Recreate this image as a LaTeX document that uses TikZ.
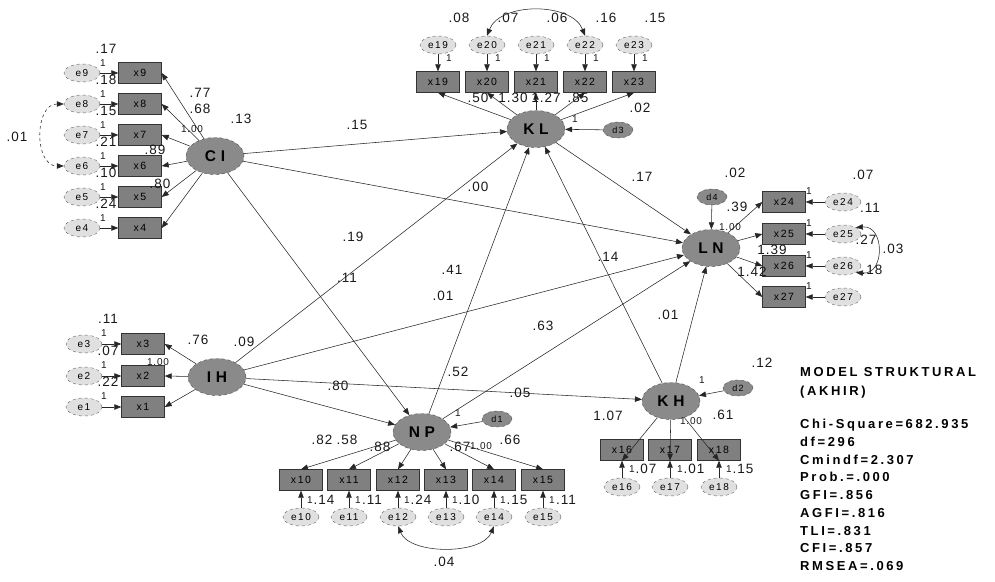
\documentclass[tikz,border=0pt]{standalone}
\usepackage{fontspec}
\setmainfont{Liberation Sans}
\newfontfamily\valfont[LetterSpace=8]{Liberation Sans}
\newfontfamily\boxfont[LetterSpace=15]{Liberation Sans}
\newfontfamily\latfont[LetterSpace=30]{Liberation Sans}
\newfontfamily\statfont[LetterSpace=20]{Liberation Sans}
\usetikzlibrary{arrows.meta,shapes.geometric}
\definecolor{latgray}{RGB}{138,138,138}
\definecolor{obsgray}{RGB}{128,128,128}
\definecolor{errgray}{RGB}{224,224,224}
\definecolor{valgray}{RGB}{25,25,25}

\begin{document}
\begin{tikzpicture}[x=1pt,y=-1pt,
  latent/.style={draw=black!70, dashed, ellipse, fill=latgray, minimum width=58pt, minimum height=37pt, inner sep=0pt, font=\latfont\bfseries\fontsize{15.5}{15.5}\selectfont},
  dist/.style={draw=black!70, dashed, ellipse, fill=latgray, minimum width=30pt, minimum height=16pt, inner sep=0pt, font=\boxfont\fontsize{9}{9}\selectfont},
  obs/.style={draw=black!80, fill=obsgray, minimum width=43pt, minimum height=21pt, inner sep=0pt, font=\boxfont\fontsize{10.5}{10.5}\selectfont},
  err/.style={draw=black!60, dashed, ellipse, fill=errgray, minimum width=36pt, minimum height=18pt, inner sep=0pt, font=\boxfont\fontsize{10}{10}\selectfont},
  val/.style={inner sep=0pt, text=valgray, font=\valfont\fontsize{13.5}{13.5}\selectfont},
  one/.style={inner sep=0pt, text=valgray, font=\valfont\fontsize{10}{10}\selectfont},
  arr/.style={-{Triangle[length=7pt,width=5.5pt]}, black!85, line width=0.55pt},
  cov/.style={{Triangle[length=7pt,width=5.5pt]}-{Triangle[length=7pt,width=5.5pt]}, black!85, line width=0.55pt},
  stat/.style={inner sep=0pt, anchor=west, font=\statfont\bfseries\fontsize{13}{13}\selectfont}
]
\useasboundingbox (0,0) rectangle (995,581);

% latent variables
\node[latent] (CI) at (215,156) {CI};
\node[latent] (IH) at (217,377) {IH};
\node[latent] (KL) at (536,129) {KL};
\node[latent] (LN) at (711,248) {LN};
\node[latent] (NP) at (422,432) {NP};
\node[latent] (KH) at (671,401) {KH};

% CI indicators
\foreach \n/\yy/\v in {9/73/.17,8/104/.18,7/135/.15,6/166/.21,5/197/.10,4/228/.24} {
  \node[obs] (x\n) at (140,\yy) {x\n};
  \node[err] (e\n) at (82,\yy) {e\n};
  \draw[arr] (e\n) -- (x\n);
  \draw[arr] (CI) -- (x\n.east);
  \node[one] at (103,\yy-10) {1};
  \node[val] at (106,\yy-24) {\v};
}
% IH indicators
\foreach \n/\yy/\v in {3/344/.11,2/376/.07,1/407/.22} {
  \node[obs] (x\n) at (143,\yy) {x\n};
  \node[err] (e\n) at (84,\yy) {e\n};
  \draw[arr] (e\n) -- (x\n);
  \draw[arr] (IH) -- (x\n.east);
  \node[one] at (104,\yy-11) {1};
  \node[val] at (108,\yy-25) {\v};
}
% KL indicators
\foreach \n/\xx/\v in {19/438/.08,20/487/.07,21/536/.06,22/585/.16,23/634/.15} {
  \node[obs] (x\n) at (\xx,82) {x\n};
  \node[err] (e\n) at (\xx,45) {e\n};
  \draw[arr] (e\n) -- (x\n);
  \draw[arr] (KL) -- (x\n.south);
  \node[one] at (\xx+11,58) {1};
  \node[val] at (\xx+21,18) {\v};
}
% LN indicators
\foreach \n/\yy in {24/202,25/234,26/266,27/297} {
  \node[obs] (x\n) at (784,\yy) {x\n};
  \node[err] (e\n) at (843,\yy) {e\n};
  \draw[arr] (e\n) -- (x\n);
  \draw[arr] (LN) -- (x\n.west);
  \node[one] at (809,\yy-11) {1};
}
% NP indicators
\foreach \n/\xx/\v in {10/301/.14,11/349/.11,12/398/.24,13/446/.10,14/494/.15,15/543/.11} {
  \node[obs] (x\n) at (\xx,480) {x\n};
  \node[err] (e\n) at (\xx,517) {e\n};
  \draw[arr] (e\n) -- (x\n);
  \draw[arr] (NP) -- (x\n.north);
  \node[one] at (\xx+9,500) {1};
  \node[val] at (\xx+23,500) {\v};
}
% KH indicators
\foreach \n/\xx/\v in {16/622/.07,17/670/.01,18/719/.15} {
  \node[obs] (x\n) at (\xx,450) {x\n};
  \node[err] (e\n) at (\xx,487) {e\n};
  \draw[arr] (e\n) -- (x\n);
  \draw[arr] (KH) -- (x\n.south);
  \node[one] at (\xx+10,469) {1};
  \node[val] at (\xx+24,469) {\v};
}

% disturbances
\node[dist] (d3) at (618,130) {d3};
\node[dist] (d4) at (712,197) {d4};
\node[dist] (d1) at (497,419) {d1};
\node[dist] (d2) at (738,388) {d2};
\draw[arr] (d3) -- (KL);
\draw[arr] (d4) -- (LN);
\draw[arr] (d1) -- (NP);
\draw[arr] (d2) -- (KH);

% structural paths
\draw[arr] (CI) -- (KL);
\draw[arr] (CI) -- (LN);
\draw[arr] (CI) -- (NP);
\draw[arr] (IH) -- (KL);
\draw[arr] (IH) -- (LN);
\draw[arr] (IH) -- (NP);
\draw[arr] (IH) -- (KH);
\draw[arr] (NP) -- (KL);
\draw[arr] (NP) -- (LN);
\draw[arr] (KH) -- (KL);
\draw[arr] (KH) -- (LN);
\draw[arr] (KL) -- (LN);

% covariances
\draw[cov, dashed] (e8.west) .. controls (34,104) and (34,166) .. (e6.west);
\draw[cov] (e20.north) .. controls (500,2) and (572,2) .. (e22.north);
\draw[cov] (e25.north east) .. controls (885,225) and (885,275) .. (e26.south east);
\draw[cov] (e12.south) .. controls (410,555) and (482,555) .. (e14.south);

% estimates
\node[val] at (17,137) {.01};
\node[val] at (200,93) {.77};
\node[val] at (200,109) {.68};
\node[one] at (192,129) {1.00};
\node[val] at (155,150) {.89};
\node[val] at (160,184) {.80};
\node[val] at (241,119) {.13};
\node[val] at (198,340) {.76};
\node[one] at (158,362) {1.00};
\node[val] at (244,342) {.09};
\node[val] at (478,98) {.50};
\node[val] at (513,98) {1.30};
\node[val] at (546,98) {1.27};
\node[val] at (578,98) {.85};
\node[val] at (640,108) {.02};
\node[one] at (575,119) {1};
\node[val] at (735,173) {.02};
\node[val] at (737,207) {.39};
\node[one] at (730,227) {1.00};
\node[val] at (863,175) {.07};
\node[val] at (870,208) {.11};
\node[val] at (866,240) {.27};
\node[val] at (893,249) {.03};
\node[val] at (872,270) {.18};
\node[val] at (772,250) {1.39};
\node[val] at (752,272) {1.42};
\node[val] at (322,440) {.82};
\node[val] at (347,440) {.58};
\node[val] at (380,447) {.88};
\node[val] at (460,447) {.67};
\node[one] at (481,446) {1.00};
\node[val] at (510,440) {.66};
\node[one] at (458,413) {1};
\node[val] at (444,562) {.04};
\node[val] at (608,416) {1.07};
\node[one] at (691,421) {1.00};
\node[val] at (723,415) {.61};
\node[one] at (702,380) {1};
\node[val] at (762,363) {.12};
\node[val] at (357,125) {.15};
\node[val] at (478,187) {.00};
\node[val] at (353,237) {.19};
\node[val] at (347,278) {.11};
\node[val] at (452,270) {.41};
\node[val] at (443,296) {.01};
\node[val] at (458,372) {.52};
\node[val] at (543,326) {.63};
\node[val] at (608,257) {.14};
\node[val] at (642,177) {.17};
\node[val] at (668,315) {.01};
\node[val] at (338,386) {.80};
\node[val] at (520,393) {.05};

% fit indices
\node[stat] (title) at (800,372) {MODEL STRUKTURAL};
\node[stat] (akhir) at (800,392) {(AKHIR)};
\node[stat, anchor=north west, align=left, font=\statfont\bfseries\fontsize{13}{17.75}\selectfont] (fit) at (800,419)
  {Chi-Square=682.935\\df=296\\Cmindf=2.307\\Prob.=.000\\GFI=.856\\AGFI=.816\\TLI=.831\\CFI=.857\\RMSEA=.069};
\end{tikzpicture}
\end{document}
